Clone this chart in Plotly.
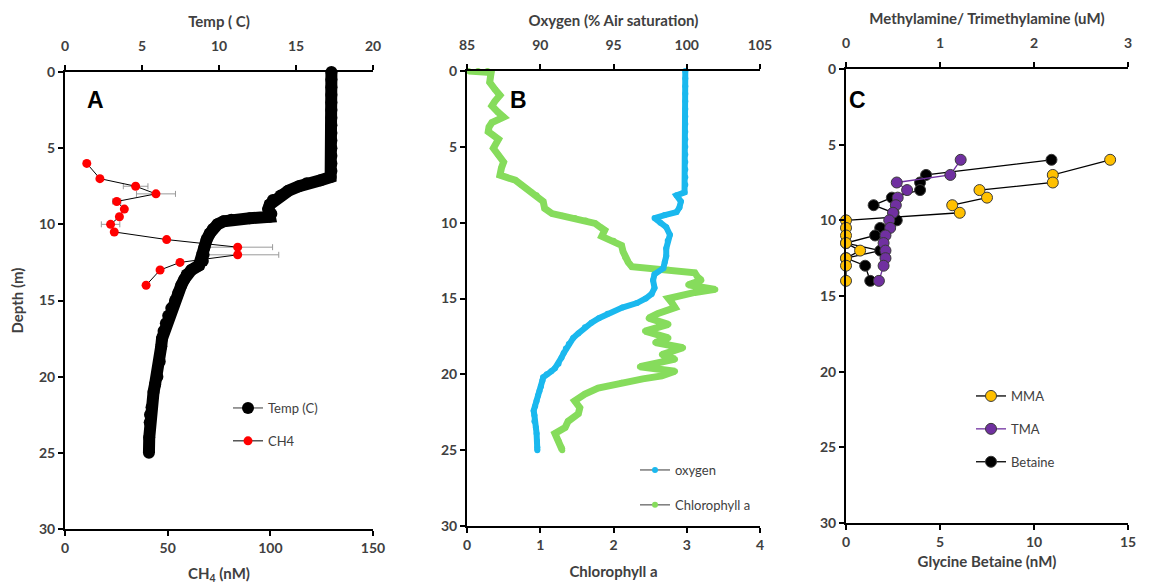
import plotly.graph_objects as go

# ---------------- Panel A data ----------------
temp_depth = [0, 0.5, 1, 1.5, 2, 2.5, 3, 3.5, 4, 4.5, 5, 5.5, 6, 6.5, 6.9,
              7.1, 7.3, 7.5, 7.8, 8.1, 8.4, 8.7, 9.0, 9.3, 9.5, 9.6, 9.7, 9.8,
              10.0, 10.3, 10.6, 11.0, 11.5, 12.0, 12.4, 12.7, 13.0, 13.3, 13.6,
              14.0, 14.5, 15.0, 15.5, 16.0, 16.5, 17.0, 17.5, 18.0, 19.0, 20.0,
              20.5, 21.0, 22.0, 22.5, 23.0, 24.0, 25.0]
temp_val = [17.3, 17.3, 17.3, 17.3, 17.3, 17.3, 17.3, 17.3, 17.3, 17.3, 17.3, 17.3, 17.3, 17.3, 17.25,
            16.6, 15.7, 15.2, 14.5, 14.0, 13.5, 13.3, 13.2, 13.4, 13.3, 12.0, 10.8, 10.3,
            9.9, 9.6, 9.4, 9.2, 9.05, 9.0, 8.95, 8.7, 8.2, 7.9, 7.75,
            7.55, 7.35, 7.15, 6.9, 6.7, 6.55, 6.4, 6.3, 6.25, 6.15, 6.0,
            5.85, 5.75, 5.62, 5.52, 5.5, 5.47, 5.45]

ch4_depth = [6, 7, 7.5, 8, 8.5, 9, 9.5, 10, 10.5, 11, 11.5, 12, 12.5, 13, 14]
ch4_val = [10.6, 17.0, 34.4, 44.3, 25.2, 28.9, 26.5, 22.2, 24.0, 49.5, 84.1, 84.1, 56.0, 46.3, 39.5]
ch4_err = [0, 0, 6, 9.5, 2, 0, 0, 4.5, 0, 0, 17, 20, 0, 0, 0]

# ---------------- Panel B data ----------------
oxy_depth = [0, 0.5, 1, 1.5, 2, 2.5, 3, 3.5, 4, 4.5, 5, 5.5, 6, 6.5, 7,
             7.5, 8.0, 8.2, 8.6, 9.0, 9.3, 9.5, 9.7, 10.0, 10.3, 10.8, 11.2,
             11.7, 12.2, 12.6, 13.0, 13.4, 13.8, 14.3, 14.7, 15.0, 15.3, 15.6,
             16.0, 16.3, 16.6, 16.9, 17.3, 17.6, 18.0, 18.3, 18.6, 18.9, 19.3,
             19.6, 19.8, 20.0, 20.2, 20.4, 20.8, 21.1, 21.4, 21.75, 22.1, 22.4,
             22.7, 23.1, 23.5, 23.9, 24.4, 24.8, 25.0]
oxy_val = [99.9, 99.9, 99.9, 99.9, 99.9, 99.9, 99.9, 99.9, 99.9, 99.9, 99.9, 99.9, 99.9, 99.9, 99.9,
           99.9, 99.85, 99.3, 99.6, 99.5, 99.3, 98.5, 97.8, 98.2, 98.6, 98.85, 98.7,
           98.6, 98.6, 98.5, 98.4, 97.8, 97.7, 97.8, 97.6, 97.2, 96.6, 95.6,
           94.6, 94.0, 93.5, 93.05, 92.6, 92.25, 91.95, 91.75, 91.6, 91.45, 91.25,
           91.0, 90.75, 90.45, 90.2, 90.15, 90.05, 89.95, 89.85, 89.75, 89.65, 89.55,
           89.6, 89.6, 89.7, 89.75, 89.78, 89.8, 89.8]

chl_depth = [0, 0, 0, 0.1, 0.4, 0.74, 1.2, 1.6, 2.0, 2.3, 2.7, 3.04, 3.4, 3.7,
             4.0, 4.5, 5.1, 5.56, 6.0, 6.4, 6.87, 7.2, 7.5, 7.75, 8.0, 8.2, 8.6,
             9.06, 9.4, 9.55, 9.7, 9.85, 10.05, 10.3, 10.5, 10.9, 11.2, 11.5, 11.9,
             12.3, 12.6, 12.9, 13.1, 13.3, 13.6, 13.8, 14.1, 14.4, 14.6, 15.0, 15.3,
             15.6, 16.0, 16.3, 16.7, 17.15, 17.6, 17.9, 18.25, 18.7, 19.0, 19.5, 19.8,
             20.1, 20.3, 20.55, 20.9, 21.3, 21.75, 22.2, 22.6, 23.1, 23.5, 23.9, 24.4,
             24.8, 25.0]
chl_val = [0.02, 0.15, 0.28, 0.33, 0.32, 0.31, 0.38, 0.45, 0.38, 0.34, 0.42, 0.5, 0.34, 0.3,
           0.29, 0.43, 0.36, 0.43, 0.5, 0.47, 0.45, 0.66, 0.74, 0.81, 0.88, 0.95, 1.04,
           1.06, 1.16, 1.3, 1.47, 1.62, 1.75, 1.82, 1.88, 1.84, 2.0, 2.11, 2.13,
           2.16, 2.2, 2.25, 2.75, 3.11, 3.15, 3.2, 3.02, 3.39, 3.11, 2.75, 2.8,
           2.84, 2.6, 2.48, 2.75, 2.43, 2.75, 2.57, 2.95, 2.66, 2.84, 2.36, 2.84,
           2.66, 2.4, 2.11, 1.79, 1.61, 1.47, 1.54, 1.52, 1.38, 1.34, 1.2, 1.25,
           1.29, 1.3]

# ---------------- Panel C data ----------------
c_depth = [6, 7, 7.5, 8, 8.5, 9, 9.5, 10, 10.5, 11, 11.5, 12, 12.5, 13, 14]
mma_val = [2.81, 2.2, 2.2, 1.42, 1.5, 1.13, 1.21, 0, 0, 0, 0, 0.15, 0, 0, 0]
tma_val = [1.22, 1.11, 0.54, 0.65, 0.55, 0.53, 0.5, 0.46, 0.47, 0.42, 0.40, 0.42, 0.42, 0.40, 0.35]
betaine_val = [10.93, 4.26, 3.94, 3.94, 2.44, 1.47, 2.53, 2.7, 1.82, 1.55, 0, 1.82, 0, 1.02, 1.29]

# ---------------- styling ----------------
W, H = 1149, 588
FONT = "Lato"
TXT = "#404040"

def px_x(a, b):
    return [a / W, b / W]

def px_y(top, bottom):
    return [1 - bottom / H, 1 - top / H]

fig = go.Figure()

# Panel A
fig.add_trace(go.Scatter(x=temp_val, y=temp_depth, xaxis="x2", yaxis="y", mode="lines+markers",
                         name="Temp (C)", legend="legend", legendgroup="a1",
                         line=dict(color="#595959", width=1.2),
                         marker=dict(color="black", size=12), cliponaxis=False))
fig.add_trace(go.Scatter(x=temp_val, y=temp_depth, xaxis="x2", yaxis="y", mode="lines",
                         showlegend=False, line=dict(color="black", width=12), cliponaxis=False))
fig.add_trace(go.Scatter(x=ch4_val, y=ch4_depth, xaxis="x", yaxis="y", mode="lines+markers",
                         name="CH4", legend="legend", legendgroup="a2",
                         line=dict(color="black", width=1),
                         marker=dict(color="#FF0000", size=9),
                         error_x=dict(type="data", array=ch4_err, color="#9a9a9a", thickness=1, width=3),
                         cliponaxis=False))

# Panel B
fig.add_trace(go.Scatter(x=oxy_val, y=oxy_depth, xaxis="x4", yaxis="y2", mode="lines+markers",
                         name="oxygen", legend="legend2", legendgroup="b1",
                         line=dict(color="#595959", width=1.2),
                         marker=dict(color="#1AB8EE", size=6), cliponaxis=False))
fig.add_trace(go.Scatter(x=oxy_val, y=oxy_depth, xaxis="x4", yaxis="y2", mode="lines",
                         showlegend=False, line=dict(color="#1AB8EE", width=6), cliponaxis=False))
fig.add_trace(go.Scatter(x=chl_val, y=chl_depth, xaxis="x3", yaxis="y2", mode="lines+markers",
                         name="Chlorophyll a", legend="legend2", legendgroup="b2",
                         line=dict(color="#595959", width=1.2),
                         marker=dict(color="#86DC5C", size=6), cliponaxis=False))
fig.add_trace(go.Scatter(x=chl_val, y=chl_depth, xaxis="x3", yaxis="y2", mode="lines",
                         showlegend=False, line=dict(color="#86DC5C", width=7), cliponaxis=False))

# Panel C
fig.add_trace(go.Scatter(x=mma_val, y=c_depth, xaxis="x6", yaxis="y3", mode="lines+markers",
                         name="MMA", legend="legend3", legendgroup="c1",
                         line=dict(color="black", width=1.3),
                         marker=dict(color="#FFC000", size=11, line=dict(color="#3a3a3a", width=1)),
                         cliponaxis=False))
fig.add_trace(go.Scatter(x=tma_val, y=c_depth, xaxis="x6", yaxis="y3", mode="lines+markers",
                         name="TMA", legend="legend3", legendgroup="c2",
                         line=dict(color="#7030A0", width=1.3),
                         marker=dict(color="#7030A0", size=11, line=dict(color="#3a3a3a", width=1)),
                         cliponaxis=False))
fig.add_trace(go.Scatter(x=betaine_val, y=c_depth, xaxis="x5", yaxis="y3", mode="lines+markers",
                         name="Betaine", legend="legend3", legendgroup="c3",
                         line=dict(color="black", width=1.3),
                         marker=dict(color="black", size=11, line=dict(color="#3a3a3a", width=1)),
                         cliponaxis=False))

tickfont = dict(family=FONT, size=14, color=TXT, weight="bold")
titlefont = dict(family=FONT, size=15, color=TXT, weight="bold")

def ax(**kw):
    d = dict(showline=True, linecolor="black", linewidth=2, ticks="outside", ticklen=5,
             tickwidth=1.5, tickcolor="black", showgrid=False, zeroline=False,
             tickfont=tickfont, autorange=False, automargin=False)
    d.update(kw)
    return d

legfont = dict(family=FONT, size=13, color=TXT)

def panel_label(t, x, y):
    return dict(text=t, x=x / W, y=1 - y / H, xref="paper", yref="paper", showarrow=False,
                xanchor="center", yanchor="middle",
                font=dict(family="Liberation Sans", size=23, color="black", weight="bold"))

fig.update_layout(
    width=W, height=H, margin=dict(l=0, r=0, t=0, b=0),
    plot_bgcolor="white", paper_bgcolor="white",
    # Panel A
    xaxis=ax(domain=px_x(65, 373), anchor="y", range=[0, 150], dtick=50,
             title=dict(text="CH<sub>4</sub> (nM)", font=titlefont, standoff=14)),
    xaxis2=ax(overlaying="x", side="top", anchor="y", range=[0, 20], dtick=5, ticklabelstandoff=8,
              title=dict(text="Temp ( C)", font=titlefont, standoff=6)),
    yaxis=ax(domain=px_y(72, 529), anchor="x", range=[30, 0], dtick=5,
             title=dict(text="Depth (m)", font=titlefont, standoff=12)),
    # Panel B
    xaxis3=ax(domain=px_x(467, 760), anchor="y2", range=[0, 4], dtick=1,
              title=dict(text="Chlorophyll a", font=titlefont, standoff=15)),
    xaxis4=ax(overlaying="x3", side="top", anchor="y2", range=[85, 105], dtick=5, ticklabelstandoff=8,
              title=dict(text="Oxygen (% Air saturation)", font=titlefont, standoff=6)),
    yaxis2=ax(domain=px_y(71, 526), anchor="x3", range=[30, 0], dtick=5),
    # Panel C
    xaxis5=ax(domain=px_x(846, 1128), anchor="y3", range=[0, 15], dtick=5,
              title=dict(text="Glycine Betaine (nM)", font=titlefont, standoff=8)),
    xaxis6=ax(overlaying="x5", side="top", anchor="y3", range=[0, 3], dtick=1, ticklabelstandoff=8,
              title=dict(text="Methylamine/ Trimethylamine (uM)", font=titlefont, standoff=6)),
    yaxis3=ax(domain=px_y(69, 523), anchor="x5", range=[30, 0], dtick=5),
    legend=dict(x=228 / W, y=1 - 393 / H, xanchor="left", yanchor="top", bgcolor="rgba(0,0,0,0)",
                font=legfont, itemwidth=30, tracegroupgap=13),
    legend2=dict(x=635 / W, y=1 - 455 / H, xanchor="left", yanchor="top", bgcolor="rgba(0,0,0,0)",
                 font=legfont, itemwidth=30, tracegroupgap=15),
    legend3=dict(x=971 / W, y=1 - 381 / H, xanchor="left", yanchor="top", bgcolor="rgba(0,0,0,0)",
                 font=legfont, itemwidth=30, tracegroupgap=13),
    annotations=[
        panel_label("A", 95, 100),
        panel_label("B", 518, 100),
        panel_label("C", 857, 100),
    ],
)

fig.write_html("out.html")
